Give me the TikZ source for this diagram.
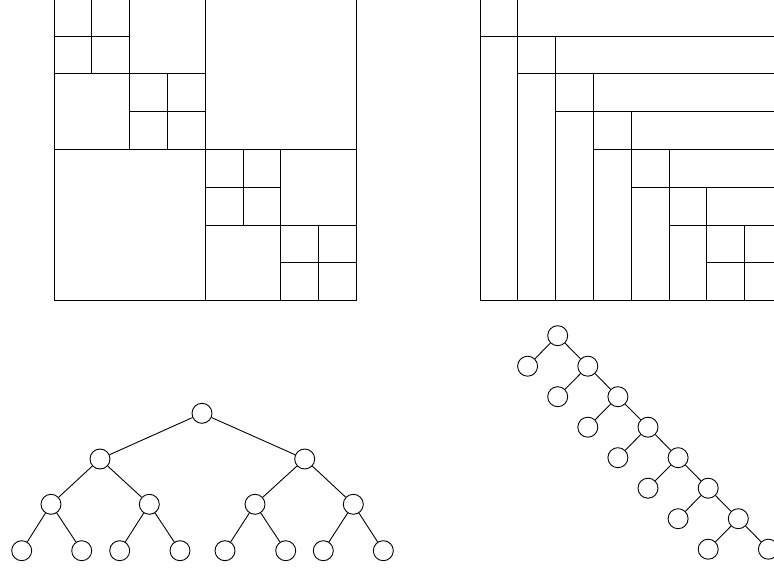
\documentclass[tikz,border=0pt]{standalone}
\begin{document}
\begin{tikzpicture}[x=1pt,y=-1pt,
  line width=0.9pt,
  tn/.style={circle,draw,minimum size=20pt,inner sep=0pt,line width=0.9pt},
  grid/.style={draw,line width=0.9pt}]
\useasboundingbox (0,0) rectangle (774,569);
\clip (0,0) rectangle (774,569);
% left grid
\begin{scope}[shift={(54,-1.7)},x=37.8pt,y=-37.8pt]
  \draw (0,0) rectangle (8,8);
  \draw (0,4)--(8,4) (4,0)--(4,8);
  \draw (0,2)--(4,2) (2,0)--(2,4);
  \draw (4,6)--(8,6) (6,4)--(6,8);
  \draw (0,1)--(2,1) (1,0)--(1,2);
  \draw (2,3)--(4,3) (3,2)--(3,4);
  \draw (4,5)--(6,5) (5,4)--(5,6);
  \draw (6,7)--(8,7) (7,6)--(7,8);
\end{scope}
% right grid
\begin{scope}[shift={(480,-1.7)},x=37.8pt,y=-37.8pt]
  \draw (0,0) rectangle (8,8);
  \foreach \i in {0,...,7}{
    \draw (\i,\i+1)--(8,\i+1);
    \draw (\i+1,\i)--(\i+1,8);
  }
\end{scope}
% left tree
\node[tn] (r) at (202,413.3) {};
\node[tn] (a) at (100,459) {};
\node[tn] (b) at (304.7,459) {};
\node[tn] (aa) at (51,504.3) {};
\node[tn] (ab) at (149.3,504.3) {};
\node[tn] (ba) at (255,504.3) {};
\node[tn] (bb) at (353.3,504.3) {};
\node[tn] (aaa) at (21.7,550.7) {};
\node[tn] (aab) at (81.7,550.7) {};
\node[tn] (aba) at (119.7,550.7) {};
\node[tn] (abb) at (180,550.7) {};
\node[tn] (baa) at (225,550.7) {};
\node[tn] (bab) at (285.7,550.7) {};
\node[tn] (bba) at (323.3,550.7) {};
\node[tn] (bbb) at (383.3,550.7) {};
\draw (r)--(a) (r)--(b);
\draw (a)--(aa) (a)--(ab) (b)--(ba) (b)--(bb);
\draw (aa)--(aaa) (aa)--(aab) (ab)--(aba) (ab)--(abb);
\draw (ba)--(baa) (ba)--(bab) (bb)--(bba) (bb)--(bbb);
% right tree
\foreach \k in {0,...,7}{
  \node[tn] (s\k) at ({557.7+30.1*\k},{335.7+30.5*\k}) {};
}
\foreach \k in {1,...,7}{
  \node[tn] (l\k) at ({557.7+30.1*(\k-2)},{335.7+30.5*\k}) {};
}
\foreach \k [evaluate=\k as \p using int(\k-1)] in {1,...,7}{
  \draw (s\p)--(s\k);
  \draw (s\p)--(l\k);
}
\end{tikzpicture}
\end{document}
